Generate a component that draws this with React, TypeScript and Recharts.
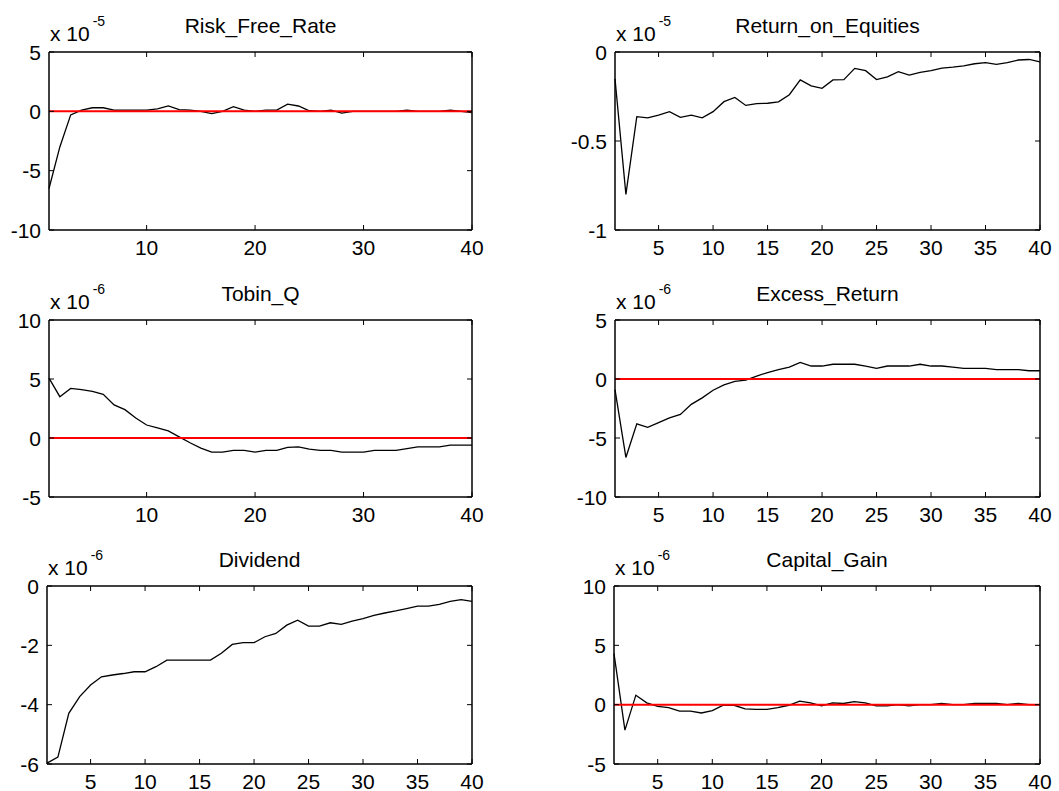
import React from 'react';
import { LineChart, Line, XAxis, YAxis, ReferenceLine } from 'recharts';

const steps = [1, 2, 3, 4, 5, 6, 7, 8, 9, 10, 11, 12, 13, 14, 15, 16, 17, 18, 19, 20,
  21, 22, 23, 24, 25, 26, 27, 28, 29, 30, 31, 32, 33, 34, 35, 36, 37, 38, 39, 40];

// values in units of the exponent shown above each panel
const riskFreeRate = [-6.5, -3.0, -0.3, 0.1, 0.3, 0.3, 0.1, 0.1, 0.1, 0.1, 0.2, 0.45, 0.15, 0.1, 0.0, -0.2, 0.0, 0.4, 0.1, 0.0,
  0.1, 0.1, 0.6, 0.45, 0.05, 0.0, 0.1, -0.15, 0.0, 0.0, 0.0, 0.0, 0.0, 0.1, 0.0, 0.0, 0.0, 0.1, 0.0, -0.1];
const returnOnEquities = [-0.15, -0.8, -0.363, -0.37, -0.354, -0.335, -0.367, -0.355, -0.37, -0.335, -0.279, -0.255, -0.3, -0.29, -0.288, -0.28, -0.24, -0.157, -0.19, -0.204,
  -0.157, -0.155, -0.092, -0.105, -0.155, -0.14, -0.11, -0.13, -0.115, -0.105, -0.09, -0.085, -0.078, -0.066, -0.06, -0.07, -0.06, -0.045, -0.042, -0.055];
const tobinQ = [5.07, 3.5, 4.2, 4.1, 3.95, 3.7, 2.8, 2.4, 1.7, 1.1, 0.85, 0.6, 0.1, -0.4, -0.85, -1.2, -1.2, -1.05, -1.05, -1.2,
  -1.05, -1.05, -0.8, -0.75, -0.95, -1.05, -1.05, -1.2, -1.2, -1.2, -1.05, -1.05, -1.05, -0.9, -0.75, -0.75, -0.75, -0.6, -0.6, -0.6];
const excessReturn = [-0.9, -6.65, -3.8, -4.1, -3.7, -3.3, -3.0, -2.15, -1.6, -0.95, -0.5, -0.2, -0.1, 0.25, 0.55, 0.8, 1.0, 1.4, 1.1, 1.1,
  1.25, 1.25, 1.25, 1.1, 0.9, 1.1, 1.1, 1.1, 1.25, 1.1, 1.1, 1.0, 0.9, 0.9, 0.9, 0.8, 0.8, 0.8, 0.7, 0.7];
const dividend = [-5.97, -5.77, -4.29, -3.73, -3.34, -3.06, -3.0, -2.95, -2.89, -2.89, -2.72, -2.5, -2.5, -2.5, -2.5, -2.5, -2.27, -1.97, -1.91, -1.91,
  -1.71, -1.6, -1.32, -1.15, -1.35, -1.35, -1.24, -1.29, -1.18, -1.1, -0.99, -0.91, -0.84, -0.76, -0.68, -0.68, -0.62, -0.52, -0.46, -0.52];
const capitalGain = [4.3, -2.15, 0.8, 0.15, -0.15, -0.25, -0.55, -0.55, -0.7, -0.5, -0.05, -0.05, -0.35, -0.4, -0.4, -0.25, -0.05, 0.3, 0.15, -0.1,
  0.15, 0.1, 0.25, 0.15, -0.1, -0.1, 0.0, -0.1, 0.0, 0.0, 0.1, 0.0, 0.0, 0.1, 0.1, 0.1, 0.0, 0.1, 0.0, 0.0];

const xTicksTens = [10, 20, 30, 40];
const xTicksFives = [5, 10, 15, 20, 25, 30, 35, 40];

const FONT = '"Liberation Sans", Arial, Helvetica, sans-serif';
const ML = 50, MT = 10, MR = 20, MB = 36;

const panels = [
  { title: 'Risk_Free_Rate', exp: '-5', values: riskFreeRate, yTicks: [-10, -5, 0, 5], xTicks: xTicksTens, box: [49, 52, 423, 178] },
  { title: 'Return_on_Equities', exp: '-5', values: returnOnEquities, yTicks: [-1, -0.5, 0], xTicks: xTicksFives, box: [615, 52, 425, 178] },
  { title: 'Tobin_Q', exp: '-6', values: tobinQ, yTicks: [-5, 0, 5, 10], xTicks: xTicksTens, box: [49, 320, 423, 177] },
  { title: 'Excess_Return', exp: '-6', values: excessReturn, yTicks: [-10, -5, 0, 5], xTicks: xTicksFives, box: [615, 320, 425, 177] },
  { title: 'Dividend', exp: '-6', values: dividend, yTicks: [-6, -4, -2, 0], xTicks: xTicksFives, box: [47, 586, 425, 178] },
  { title: 'Capital_Gain', exp: '-6', values: capitalGain, yTicks: [-5, 0, 5, 10], xTicks: xTicksFives, box: [614, 586, 426, 178] },
];

const BottomTick = ({ x, y, payload }: any) => (
  <g>
    <line x1={x} x2={x} y1={y} y2={y - 5} stroke="#000" />
    <text x={x} y={y + 25} textAnchor="middle" fontSize={21} fontFamily={FONT} fill="#000">{payload.value}</text>
  </g>
);
const TopTick = ({ x, y }: any) => <line x1={x} x2={x} y1={y} y2={y + 5} stroke="#000" />;
const LeftTick = ({ x, y, payload }: any) => (
  <g>
    <line x1={x} x2={x + 5} y1={y} y2={y} stroke="#000" />
    <text x={x - 8} y={y + 7.5} textAnchor="end" fontSize={21} fontFamily={FONT} fill="#000">{String(payload.value)}</text>
  </g>
);
const RightTick = ({ x, y }: any) => <line x1={x} x2={x - 5} y1={y} y2={y} stroke="#000" />;

const axisLine = { stroke: '#000', strokeWidth: 1.5 };

const Panel = ({ p }: any) => {
  const [left, top, w, h] = p.box;
  const data = steps.map((s, i) => ({ step: s, value: p.values[i] }));
  const yDomain = [p.yTicks[0], p.yTicks[p.yTicks.length - 1]];
  // each axis takes 1px, so margins are 1px smaller to keep the plot box in place
  return (
    <div style={{ position: 'absolute', left: left - ML, top: top - MT }}>
      <LineChart width={w + ML + MR} height={h + MT + MB} data={data}
        margin={{ top: MT - 1, right: MR - 1, bottom: MB - 1, left: ML - 1 }}>
        <XAxis dataKey="step" type="number" domain={[1, 40]} ticks={p.xTicks} interval={0} height={1}
          tickSize={0} tickMargin={0} tickLine={false} axisLine={axisLine} tick={(t: any) => <BottomTick {...t} />} />
        <XAxis xAxisId="t" dataKey="step" type="number" orientation="top" domain={[1, 40]} ticks={p.xTicks} interval={0} height={1}
          tickSize={0} tickMargin={0} tickLine={false} axisLine={axisLine} tick={(t: any) => <TopTick {...t} />} />
        <YAxis type="number" domain={yDomain} ticks={p.yTicks} interval={0} width={1} allowDataOverflow
          tickSize={0} tickMargin={0} tickLine={false} axisLine={axisLine} tick={(t: any) => <LeftTick {...t} />} />
        <YAxis yAxisId="r" orientation="right" type="number" domain={yDomain} ticks={p.yTicks} interval={0} width={1} allowDataOverflow
          tickSize={0} tickMargin={0} tickLine={false} axisLine={axisLine} tick={(t: any) => <RightTick {...t} />} />
        <Line type="linear" dataKey="value" stroke="#000" strokeWidth={1.3} dot={false} isAnimationActive={false} />
        {yDomain[1] > 0 && <ReferenceLine y={0} stroke="#ff0000" strokeWidth={2} />}
      </LineChart>
    </div>
  );
};

const App = () => (
  <div style={{ position: 'absolute', left: 0, top: 0, width: 1059, height: 791, background: '#fff', fontFamily: FONT }}>
    {panels.map((p) => <Panel key={p.title} p={p} />)}
    <svg width={1059} height={791} style={{ position: 'absolute', left: 0, top: 0, pointerEvents: 'none' }}>
      {panels.map((p) => {
        const [left, top, w] = p.box;
        return (
          <g key={p.title} fontFamily={FONT} fill="#000">
            <text x={left + w / 2} y={top - 19} textAnchor="middle" fontSize={21}>{p.title}</text>
            <text x={left + 1} y={top - 11} fontSize={21}>
              x 10<tspan dx={3} dy={-15} fontSize={14}>{p.exp}</tspan>
            </text>
          </g>
        );
      })}
    </svg>
  </div>
);

export default App;
